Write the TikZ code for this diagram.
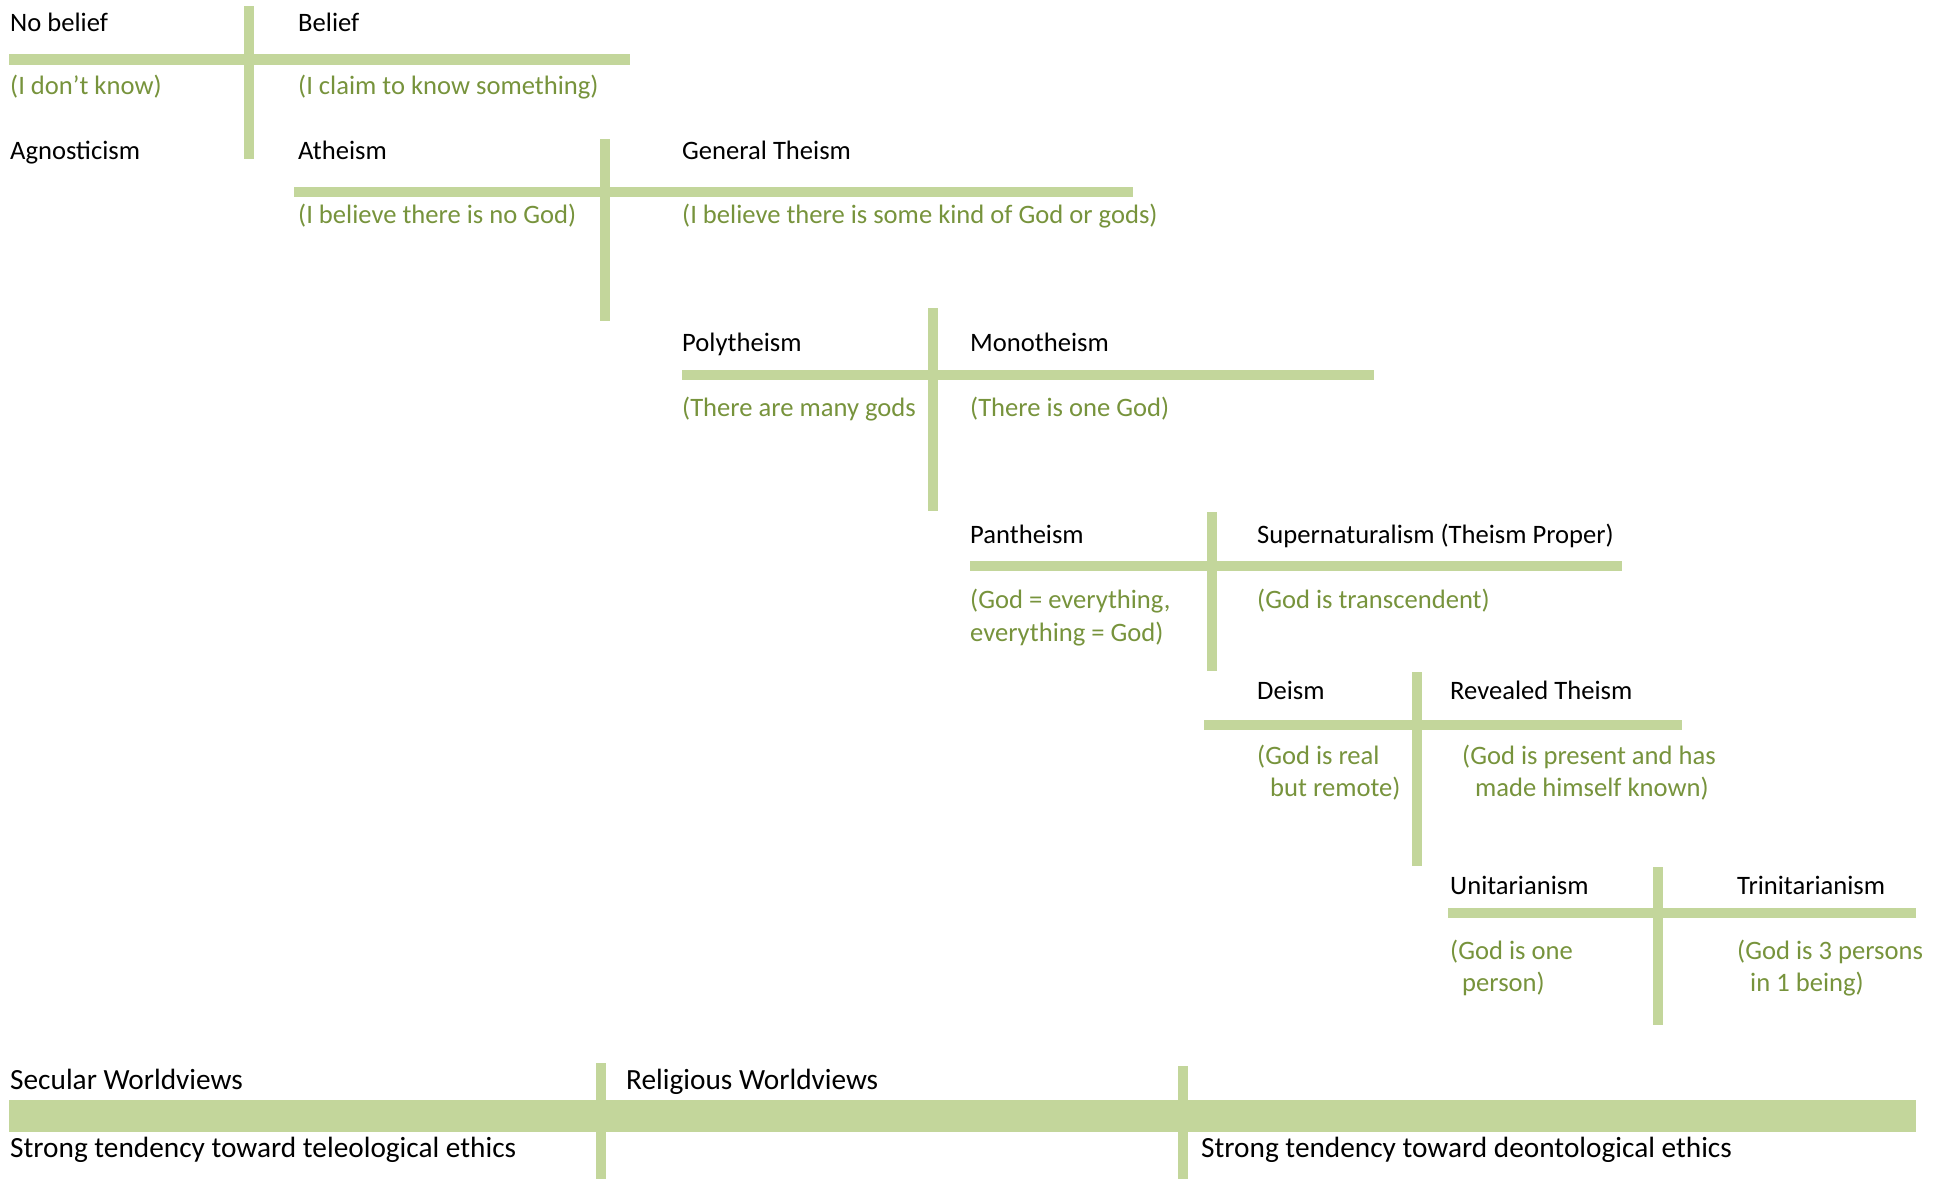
\documentclass[tikz,border=0pt]{standalone}
\usepackage{fontspec}
\setmainfont{Carlito}
\definecolor{barg}{HTML}{C3D69B}
\definecolor{txtg}{HTML}{77933C}
\tikzset{
  bar/.style={draw=barg, line width=10.5pt},
  head/.style={anchor=base west, inner sep=0pt, font=\fontsize{26.6}{32}\selectfont},
  note/.style={head, text=txtg},
  big/.style={anchor=base west, inner sep=0pt, font=\fontsize{29.3}{35}\selectfont},
}
\begin{document}
\begin{tikzpicture}[x=1pt, y=-1pt]
    \useasboundingbox (0,0) rectangle (1948,1179);
    % the crosses
    \foreach \x/\ya/\yb in {249/6/159, 605/139/321, 933/308/511, 1212/512/671, 1417/672/866, 1658/867/1025, 601/1063/1179, 1183/1066/1179}
        \draw[bar] (\x,\ya) -- (\x,\yb);
    \foreach \xa/\xb/\y in {9/630/59.5, 294/1133/192, 682/1374/375, 970/1622/566, 1204/1682/725, 1448/1916/913}
        \draw[bar] (\xa,\y) -- (\xb,\y);
    \draw[bar, line width=32pt] (9,1116) -- (1916,1116);

    \node[head] (nob) at (10,31) {No belief};
    \node[head] (bel) at (298,31) {Belief};
    \node[note] (idk) at (10,94) {(I don’t know)};
    \node[note] (claim) at (298,94) {(I claim to know something)};
    \node[head] (agn) at (10,159) {Agnosticism};
    \node[head] (ath) at (298,159) {Atheism};
    \node[head] (gen) at (682,159) {General Theism};
    \node[note] (nogod) at (298,223.5) {(I believe there is no God)};
    \node[note] (somegod) at (682,223.5) {(I believe there is some kind of God or gods)};

    \node[head] (poly) at (682,351.5) {Polytheism};
    \node[head] (mono) at (970,351.5) {Monotheism};
    \node[note] (many) at (682,416) {(There are many gods};
    \node[note] (one) at (970,416) {(There is one God)};

    \node[head] (pan) at (970,543) {Pantheism};
    \node[head] (sup) at (1257,543) {Supernaturalism (Theism Proper)};
    \node[note] (pan1) at (970,608.5) {(God = everything,};
    \node[note] (pan2) at (970,641) {everything = God)};
    \node[note] (trans) at (1257,608.5) {(God is transcendent)};

    \node[head] (deism) at (1257,699) {Deism};
    \node[head] (rev) at (1450,699) {Revealed Theism};
    \node[note] (deism1) at (1257,764) {(God is real};
    \node[note] (deism2) at (1270,796) {but remote)};
    \node[note] (rev1) at (1462,764) {(God is present and has};
    \node[note] (rev2) at (1475,796) {made himself known)};

    \node[head] (uni) at (1450,894.5) {Unitarianism};
    \node[head] (tri) at (1737,894.5) {Trinitarianism};
    \node[note] (uni1) at (1450,959) {(God is one};
    \node[note] (uni2) at (1462,991) {person)};
    \node[note] (tri1) at (1737,959) {(God is 3 persons};
    \node[note] (tri2) at (1750,991) {in 1 being)};

    \node[big] (sec) at (10,1089) {Secular Worldviews};
    \node[big] (rel) at (626,1089) {Religious Worldviews};
    \node[big] (tele) at (10,1157) {Strong tendency toward teleological ethics};
    \node[big] (deon) at (1201,1157) {Strong tendency toward deontological ethics};
\end{tikzpicture}
\end{document}
